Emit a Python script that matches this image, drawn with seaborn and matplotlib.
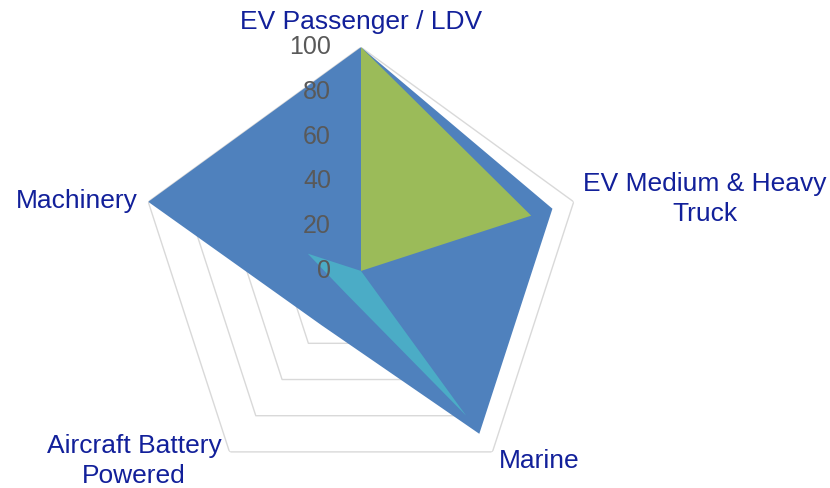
import matplotlib
matplotlib.use("Agg")
import matplotlib.pyplot as plt
import numpy as np
import seaborn as sns

categories = [
    "EV Passenger / LDV",
    "EV Medium & Heavy\nTruck",
    "Marine",
    "Aircraft Battery\nPowered",
    "Machinery",
]
series_blue = [100, 90, 90, 30, 100]
series_green = [100, 80, 0, 0, 0]
series_teal = [0, 0, 80, 12, 25]
ring_values = [0, 20, 40, 60, 80, 100]

COLORS = ["#4F81BD", "#9BBB59", "#4BACC6"]
LABEL_COLOR = "#12209A"
TICK_COLOR = "#595959"
GRID_COLOR = "#D9D9D9"

sns.set_theme(style="white")
plt.rcParams["font.family"] = ["Liberation Sans", "DejaVu Sans"]

# offsets (pixels) of category labels from the outer ring corners
LABEL_POS = [
    ((0, 25), "center", "center"),
    ((9, 3), "left", "center"),
    ((6, -9), "left", "center"),
    ((-8, -9), "right", "center"),
    ((-10, 1), "right", "center"),
]


def closed(values):
    return list(values) + [values[0]]


def main():
    n = len(categories)
    angles = np.linspace(0, 2 * np.pi, n, endpoint=False)
    theta = closed(angles)

    fig = plt.figure(figsize=(8.3, 4.88), dpi=100)
    ax = fig.add_axes([0.1654, -0.0137, 0.539, 0.917], projection="polar")
    ax.set_theta_offset(np.pi / 2)
    ax.set_theta_direction(-1)
    ax.set_ylim(0, 100)
    ax.grid(False)
    ax.spines["polar"].set_visible(False)
    ax.set_xticks([])
    ax.set_yticks([])

    # pentagon grid rings
    for v in ring_values[1:]:
        ax.plot(theta, [v] * (n + 1), color=GRID_COLOR, lw=1.0, zorder=1)

    for vals, color in zip([series_blue, series_green, series_teal], COLORS):
        ax.fill(theta, closed(vals), color=color, lw=0, zorder=2)

    # value labels along the top axis
    for v in ring_values:
        ax.annotate(str(v), xy=(0, v), xytext=(-30, 0), textcoords="offset pixels",
                    ha="right", va="center", fontsize=18, color=TICK_COLOR, zorder=5)

    for ang, label, (off, ha, va) in zip(angles, categories, LABEL_POS):
        ax.annotate(label, xy=(ang, 100), xytext=off, textcoords="offset pixels",
                    ha=ha, va=va, multialignment="center", fontsize=19,
                    linespacing=1.3, color=LABEL_COLOR, annotation_clip=False,
                    zorder=5)

    fig.savefig("out.png", dpi=100)
    plt.close(fig)


if __name__ == "__main__":
    main()
